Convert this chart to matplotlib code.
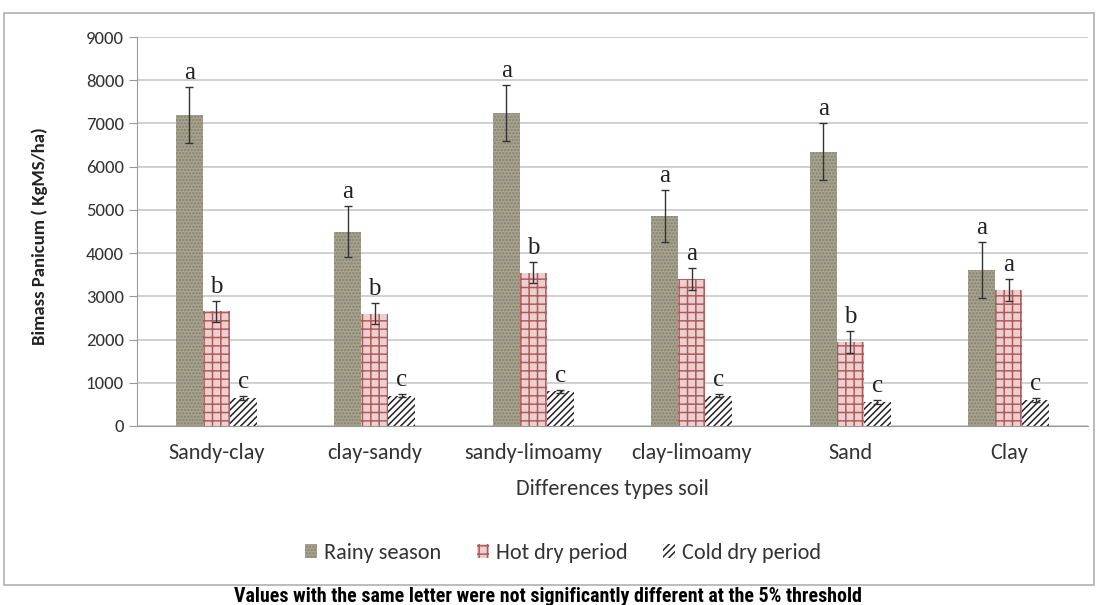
import numpy as np
import matplotlib.pyplot as plt
from matplotlib.patches import Rectangle

# soil types and biomass per season (KgMS/ha)
soils = ["Sandy-clay", "clay-sandy", "sandy-limoamy", "clay-limoamy", "Sand", "Clay"]
rainy = [7200, 4500, 7250, 4850, 6350, 3600]
rainy_err = [650, 600, 650, 600, 650, 650]
hot = [2650, 2600, 3550, 3400, 1950, 3150]
hot_err = [250, 250, 250, 250, 250, 250]
cold = [650, 700, 800, 700, 550, 600]
cold_err = [40, 40, 40, 40, 40, 40]

rainy_letters = ["a", "a", "a", "a", "a", "a"]
hot_letters = ["b", "b", "b", "a", "b", "a"]
cold_letters = ["c", "c", "c", "c", "c", "c"]

body = ["Carlito", "Liberation Sans", "DejaVu Sans"]
caption_font = ["Roboto Condensed", "Liberation Sans", "DejaVu Sans"]
serif = ["Liberation Serif", "DejaVu Serif"]

plt.rcParams["hatch.linewidth"] = 1.1
fig = plt.figure(figsize=(10.96, 6.05), dpi=100)

# outer chart frame
fig.patches.append(Rectangle((4 / 1096, 1 - 585 / 605), 1090 / 1096, 572 / 605,
                             transform=fig.transFigure, fill=False,
                             edgecolor="#b0b0b0", linewidth=1.2))

ax = fig.add_axes([137 / 1096, 179 / 605, 951 / 1096, 389 / 605])

x = np.arange(len(soils))
w = 0.17

series = [
    (rainy, rainy_err, rainy_letters, "Rainy season", "#a7a38f", "#858270", "....."),
    (hot, hot_err, hot_letters, "Hot dry period", "#ecd0d0", "#b05a5a", "++"),
    (cold, cold_err, cold_letters, "Cold dry period", "white", "#222222", "/////"),
]

for i, (vals, err, letters, label, face, hcol, hatch) in enumerate(series):
    pos = x + (i - 1) * w
    ax.bar(pos, vals, width=w, color=face, edgecolor=hcol, hatch=hatch,
           linewidth=0, label=label, zorder=2)
    ax.errorbar(pos, vals, yerr=err, fmt="none", ecolor="#333333",
                elinewidth=1, capsize=3, capthick=1, zorder=3)
    for p, v, e, t in zip(pos, vals, err, letters):
        ax.text(p, v + e + 70, t, ha="center", va="bottom",
                fontsize=18, family=serif, color="#222222")

ax.set_xlim(-0.5, len(soils) - 0.5)
ax.set_ylim(0, 9000)
ax.set_yticks(range(0, 9001, 1000))
ax.set_xticks(x)
ax.set_xticklabels(soils, fontsize=16, family=body, color="#333333")
for t in ax.get_yticklabels():
    t.set_family(body)
ax.tick_params(axis="y", labelsize=13.5, length=6, color="#999999",
               labelcolor="#333333")
ax.tick_params(axis="x", length=0, pad=12)
ax.yaxis.grid(True, color="#c8c8c8", linewidth=1.2)
ax.set_axisbelow(True)
for s in ["top", "right"]:
    ax.spines[s].set_visible(False)
ax.spines["left"].set_color("#999999")
ax.spines["bottom"].set_color("#999999")

ax.set_ylabel("Bimass Panicum ( KgMS/ha)", fontsize=13.5, fontweight="bold",
              family=body, color="#222222")
ax.yaxis.set_label_coords(-0.094, 0.488)
ax.set_xlabel("Differences types soil", fontsize=16, family=body,
              labelpad=12, color="#333333")

ax.legend(loc="center", bbox_to_anchor=(0.448, -0.326), ncol=3, frameon=False,
          prop={"family": body, "size": 16}, handlelength=0.55,
          handleheight=0.55, columnspacing=1.6, handletextpad=0.3,
          labelcolor="#333333")

fig.text(0.5, 1 - 596 / 605, "Values with the same letter were not significantly "
         "different at the 5% threshold", ha="center", va="center",
         fontsize=14.3, fontweight="bold", family=caption_font)

fig.savefig("out.png", dpi=100)
